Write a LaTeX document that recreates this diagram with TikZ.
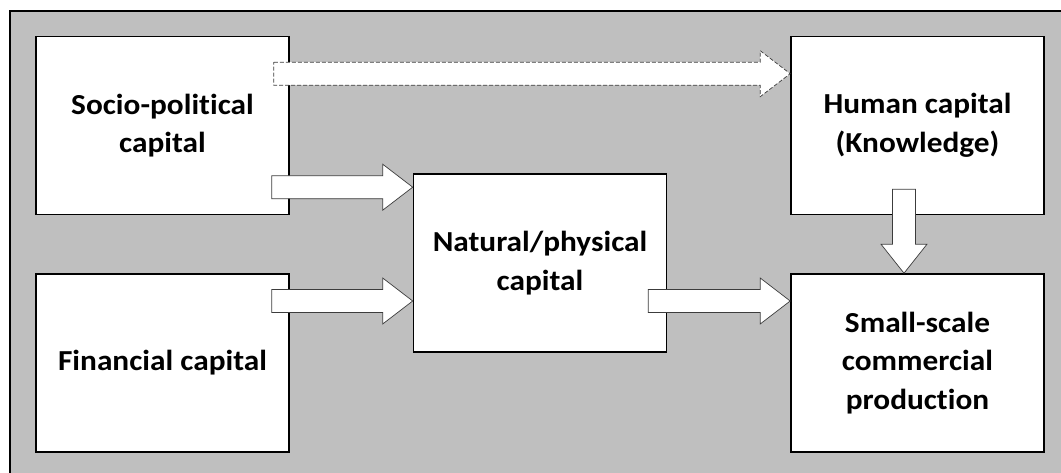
\documentclass[tikz,border=0pt]{standalone}
\usepackage{fontspec}
\setmainfont[Ligatures=CommonOff,FakeStretch=1.08]{Carlito}
\usetikzlibrary{calc}
\definecolor{bggray}{RGB}{191,191,191}
\definecolor{arrline}{RGB}{60,60,60}
\tikzset{
  capbox/.style={draw=black, line width=1.6pt, fill=white, minimum width=253pt, minimum height=178pt,
    inner sep=0pt, align=center, font=\fontsize{29}{38.5}\selectfont\bfseries},
  blockarrow/.style={draw=arrline, line width=0.7pt, fill=white, line join=miter},
}
\newcommand\rblock[3][]{%
  \draw[blockarrow,#1] let \p1=#2, \p2=#3 in
    (\x1,\y2+11.5) -- (\x2-30,\y2+11.5) -- (\x2-30,\y2+23) -- (\x2,\y2) --
    (\x2-30,\y2-23) -- (\x2-30,\y2-11.5) -- (\x1,\y2-11.5) -- cycle;}
\newcommand\dblock[3][]{%
  \draw[blockarrow,#1] let \p1=#2, \p2=#3 in
    (\x2-11.5,\y1) -- (\x2-11.5,\y2+29) -- (\x2-23,\y2+29) -- (\x2,\y2) --
    (\x2+23,\y2+29) -- (\x2+11.5,\y2+29) -- (\x2+11.5,\y1) -- cycle;}
\begin{document}
\begin{tikzpicture}[x=1pt,y=1pt]
\useasboundingbox (0,0) rectangle (1061,472);
\draw[line width=1.6pt, fill=bggray] (10,461) rectangle (1070,-10);
\node[capbox] (soc) at (162.5,346.5) {Socio-political\\capital};
\node[capbox] (fin) at (162.5,109) {Financial capital};
\node[capbox] (nat) at (540,209) {Natural/physical\\capital};
\node[capbox] (hum) at (917.5,346.5) {Human capital\\(Knowledge)};
\node[capbox] (sml) at (917.5,109) {Small-scale\\commercial\\production};
\rblock[dashed, dash pattern=on 4pt off 2pt]{($(soc.east)+(-16,0)$)}{($(hum.north west)+(0,-38)$)}
\rblock{($(soc.east)+(-18,0)$)}{($(nat.north west)+(0,-14)$)}
\rblock{($(fin.east)+(-18,0)$)}{($(nat.west)+(0,-38)$)}
\rblock{($(nat.east)+(-19,0)$)}{($(sml.west)+(0,62)$)}
\dblock{($(hum.south)+(-13.5,26)$)}{($(sml.north)+(-13.5,0)$)}
\end{tikzpicture}
\end{document}
